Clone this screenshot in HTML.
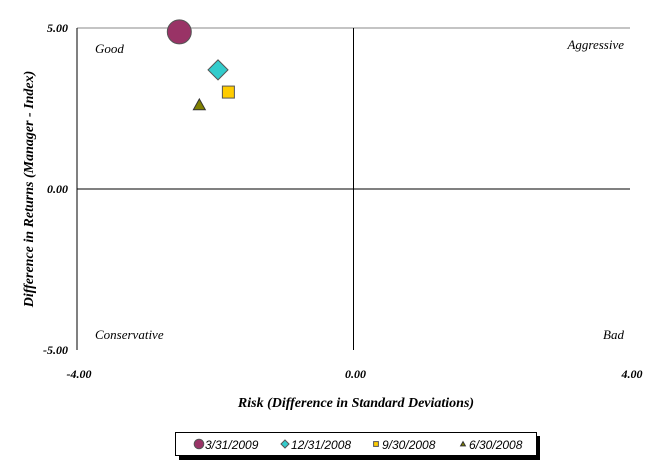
<!DOCTYPE html>
<html><head><meta charset="utf-8"><style>
body{margin:0;background:#fff;width:658px;height:464px;overflow:hidden}
svg text{font-family:"Liberation Serif",serif;font-style:italic}
</style></head><body>
<svg width="658" height="464">
<g id="plot"></g>
</svg>
<script>
const seriesNames=["3/31/2009","12/31/2008","9/30/2008","6/30/2008"];
const riskValues=[-2.52,-1.96,-1.81,-2.23];
const returnValues=[4.88,3.70,3.01,2.61];
const xTicks=[-4,0,4];
const yTicks=[5,0,-5];
const x0=77,x1=630,y0=28,y1=350;
const X=v=>x0+(v+4)/8*(x1-x0);
const Y=v=>y1-(v+5)/10*(y1-y0);
const g=document.getElementById('plot');
const NS='http://www.w3.org/2000/svg';
function mk(t,a,txt){const e=document.createElementNS(NS,t);for(const k in a)e.setAttribute(k,a[k]);if(txt!=null)e.textContent=txt;g.appendChild(e);return e;}
let e;
e=mk('line',{x1:x0,y1:y0,x2:x1,y2:y0,stroke:'#888'});
e=mk('line',{x1:X(0),y1:y0,x2:X(0),y2:y1,stroke:'#000'});
e=mk('line',{x1:x0,y1:Y(0),x2:x1,y2:Y(0),stroke:'#000'});
e=mk('line',{x1:x0,y1:y0,x2:x0,y2:y1,stroke:'#000'});
xTicks.forEach(v=>{e=mk('text',{x:X(v)+2,y:378,'text-anchor':'middle','font-size':12,'font-weight':'bold'},v.toFixed(2));});
yTicks.forEach(v=>{e=mk('text',{x:68,y:Y(v)+4,'text-anchor':'end','font-size':12,'font-weight':'bold'},v.toFixed(2));});
e=mk('text',{x:356,y:407,'text-anchor':'middle','font-size':14,'font-weight':'bold'},'Risk (Difference in Standard Deviations)');
e=mk('text',{x:0,y:0,'text-anchor':'middle','font-size':14,'font-weight':'bold',transform:'translate(33,189) rotate(-90)'},'Difference in Returns (Manager - Index)');
[['Good',95,53,'start'],['Aggressive',624,49,'end'],['Conservative',95,339,'start'],['Bad',624,339,'end']].forEach(q=>{e=mk('text',{x:q[1],y:q[2],'text-anchor':q[3],'font-size':13},q[0]);});
function marker(i,cx,cy,s){
 if(i===0)return mk('circle',{cx:cx,cy:cy,r:s*12,fill:'#993366',stroke:'#555'});
 if(i===1){const r=s*10;return mk('polygon',{points:`${cx},${cy-r} ${cx+r},${cy} ${cx},${cy+r} ${cx-r},${cy}`,fill:'#33CCCC',stroke:'#555'});}
 if(i===2){const r=s*6;return mk('rect',{x:cx-r,y:cy-r,width:2*r,height:2*r,fill:'#FFCC00',stroke:'#555'});}
 const r=s*6;return mk('polygon',{points:`${cx},${cy-r} ${cx+r},${cy+r*0.8} ${cx-r},${cy+r*0.8}`,fill:'#808000',stroke:'#333'});
}
riskValues.forEach((v,i)=>{e=marker(i,X(v),Y(returnValues[i]),1);});
e=mk('rect',{x:179,y:436,width:361,height:24,fill:'#000'});
e=mk('rect',{x:175.5,y:432.5,width:361,height:23,fill:'#fff',stroke:'#000'});
const lx=[199,285,376,463];
seriesNames.forEach((n,i)=>{e=marker(i,lx[i],444,0.4);
 e=mk('text',{x:lx[i]+6,y:449,'font-size':12,style:'font-family:"Liberation Sans",sans-serif'},n);});
</script>
</body></html>
